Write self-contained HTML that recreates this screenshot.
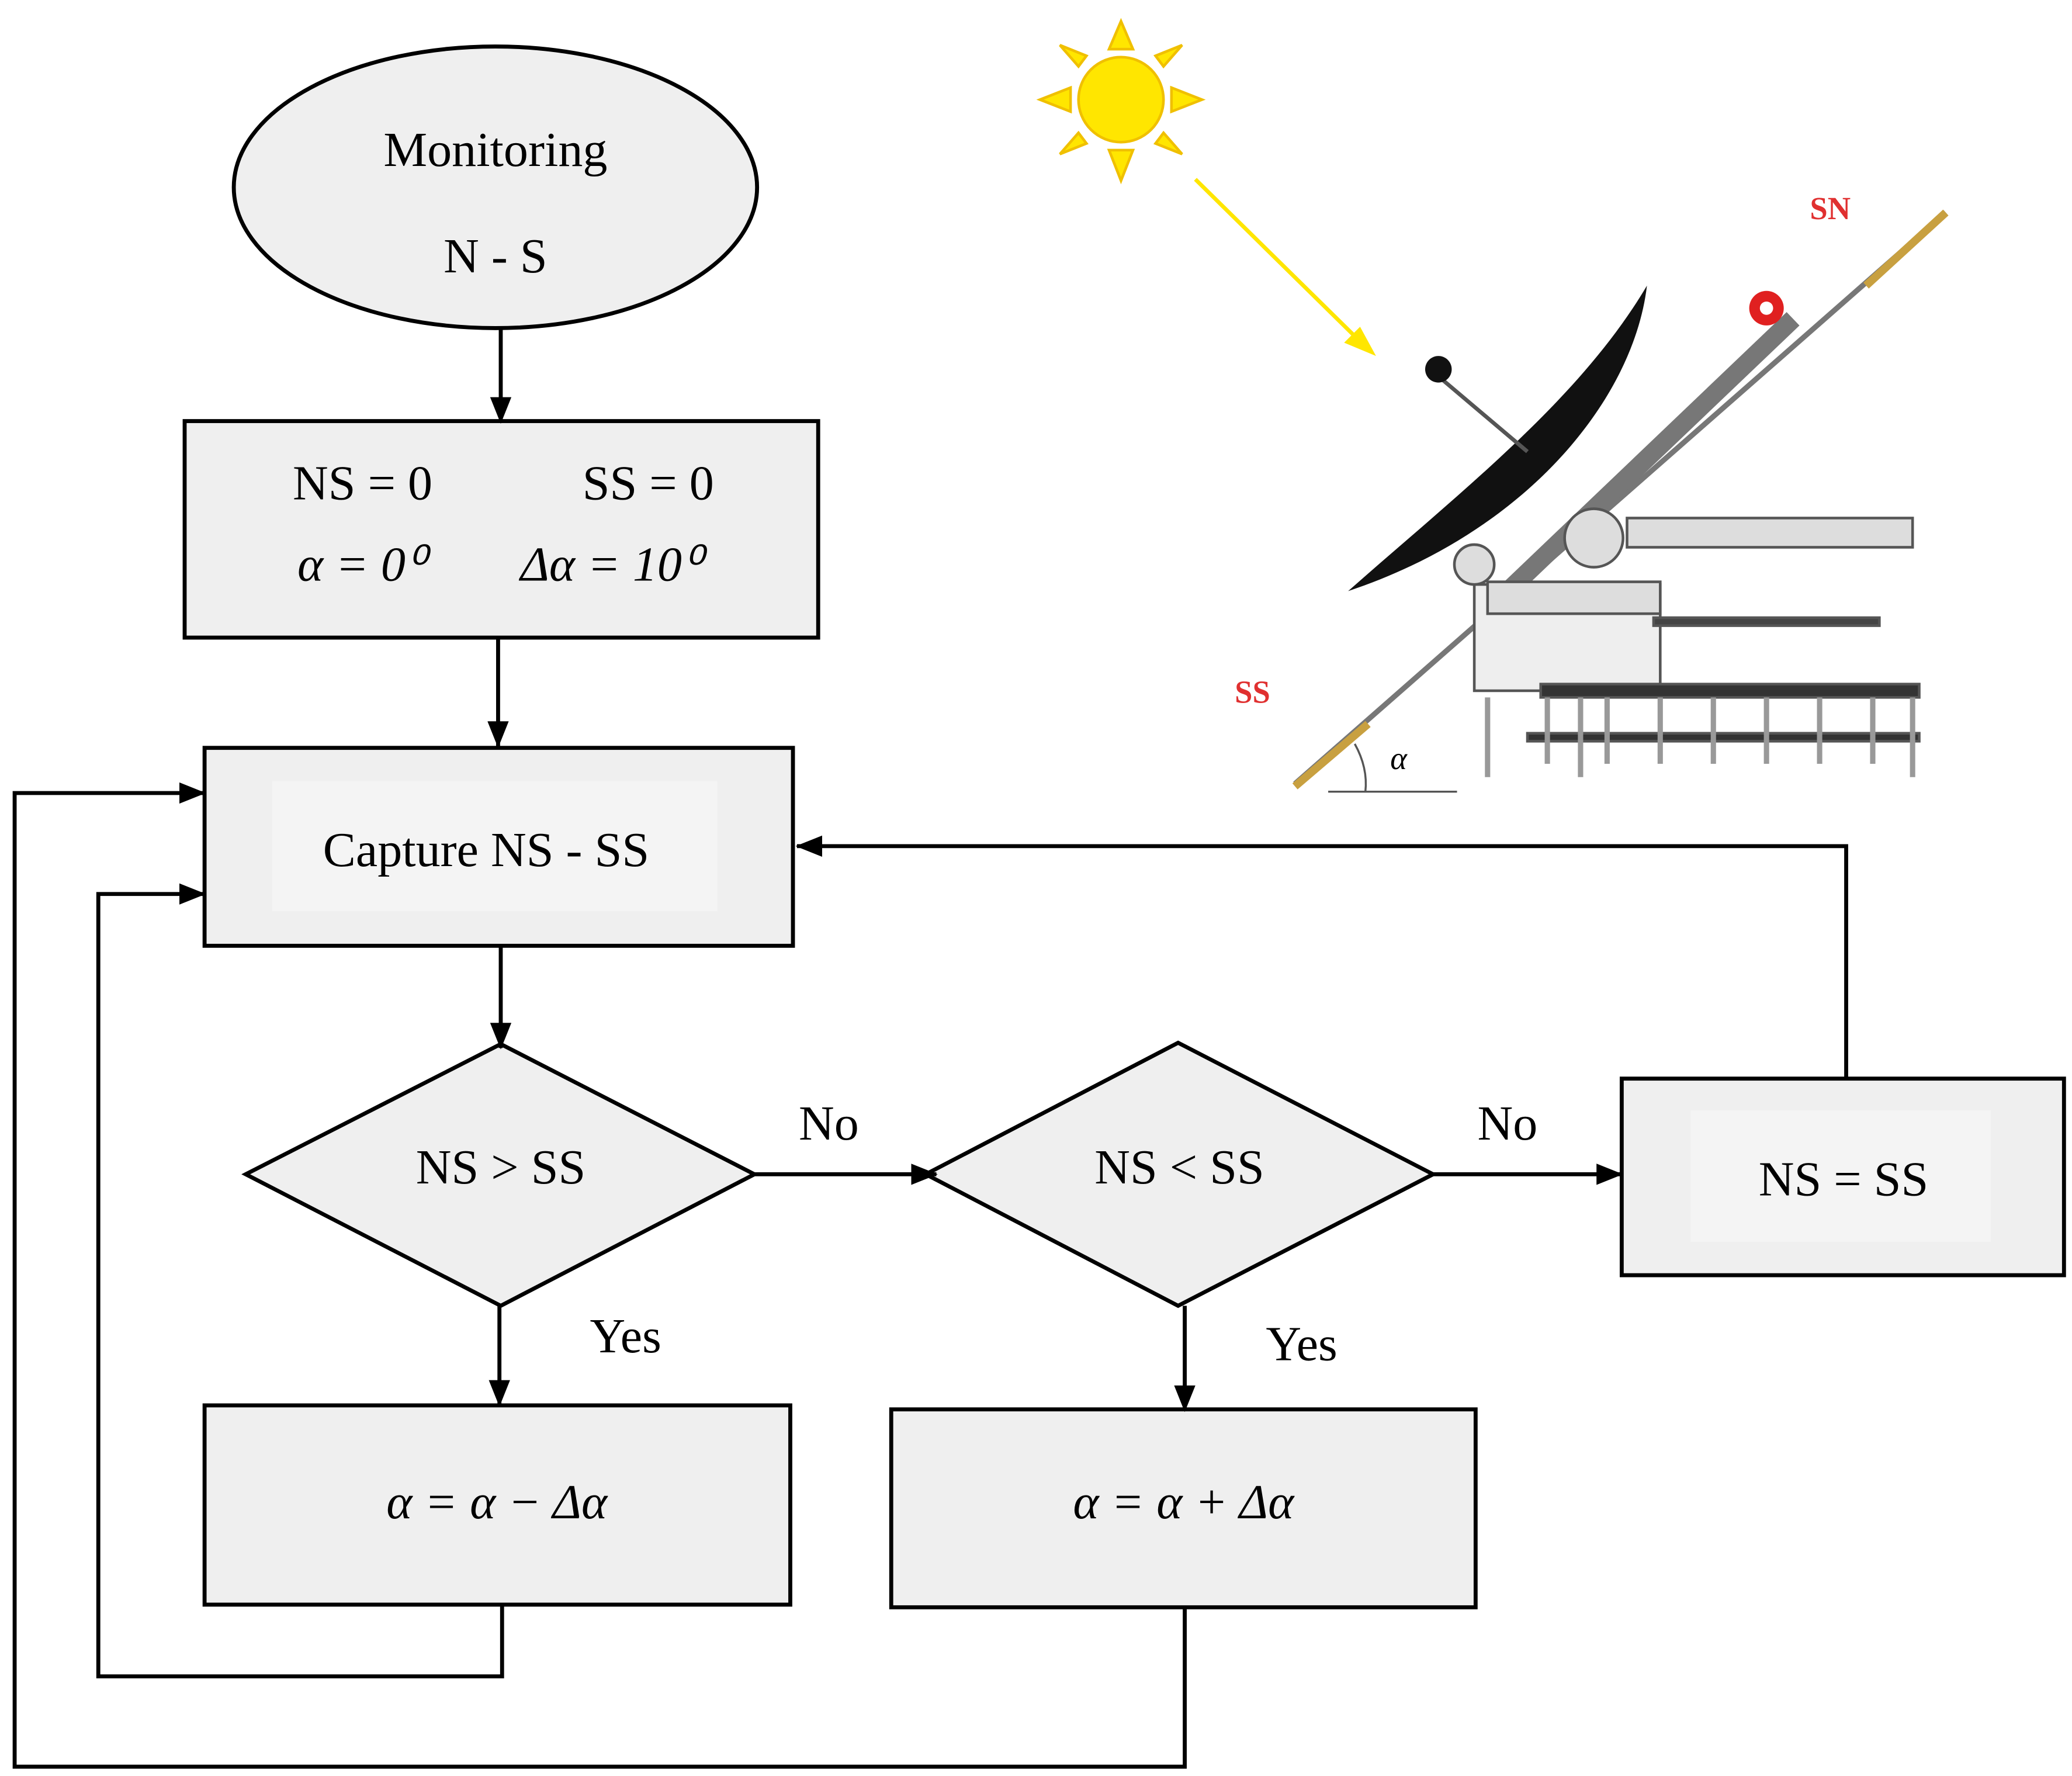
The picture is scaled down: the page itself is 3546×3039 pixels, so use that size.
<!DOCTYPE html>
<html><head><meta charset="utf-8"><style>html,body{margin:0;padding:0;background:#fff}svg{display:block}</style></head>
<body>
<svg width="3546" height="3039" viewBox="0 0 1560 1337" xmlns="http://www.w3.org/2000/svg" font-family="'Liberation Serif',serif">
<defs>
<marker id="b" markerWidth="20" markerHeight="16" refX="19" refY="8" orient="auto" markerUnits="userSpaceOnUse"><path d="M0,0 L20,8 L0,16z" fill="#000"/></marker></defs>
<g stroke="#000" stroke-width="3" fill="#efefef">
<ellipse cx="373" cy="141" rx="197" ry="106"/>
<rect x="139" y="317" width="477" height="163"/>
<rect x="154" y="563" width="443" height="149"/>
<polygon points="185,884 377,786 568,884 377,983"/>
<polygon points="697,884 887,785 1079,884 887,983"/>
<rect x="1221" y="812" width="333" height="148"/>
<rect x="154" y="1058" width="441" height="150"/>
<rect x="671" y="1061" width="440" height="149"/>
</g>
<rect x="205" y="588" width="335" height="98" fill="#f4f4f4"/>
<rect x="1273" y="836" width="226" height="99" fill="#f4f4f4"/>
<g stroke="#000" stroke-width="3" fill="none">
<line x1="377" y1="248" x2="377" y2="318" marker-end="url(#b)"/>
<line x1="375" y1="480" x2="375" y2="562" marker-end="url(#b)"/>
<line x1="377" y1="712" x2="377" y2="789" marker-end="url(#b)"/>
<line x1="568" y1="884" x2="705" y2="884" marker-end="url(#b)"/>
<line x1="1079" y1="884" x2="1221" y2="884" marker-end="url(#b)"/>
<polyline points="1390,812 1390,637 600,637" marker-end="url(#b)"/>
<line x1="376" y1="983" x2="376" y2="1058" marker-end="url(#b)"/>
<line x1="892" y1="983" x2="892" y2="1062" marker-end="url(#b)"/>
<polyline points="378,1208 378,1262 74,1262 74,673 154,673" marker-end="url(#b)"/>
<polyline points="892,1210 892,1330 11,1330 11,597 154,597" marker-end="url(#b)"/>
</g>
<g font-size="37" text-anchor="middle" fill="#000">
<text x="373" y="125">Monitoring</text>
<text x="373" y="205">N - S</text>
<text x="273" y="376">NS = 0</text>
<text x="488" y="376">SS = 0</text>
<text x="272" y="437" font-style="italic">α = 0⁰</text>
<text x="460" y="437" font-style="italic">Δα = 10⁰</text>
<text x="366" y="652">Capture NS - SS</text>
<text x="377" y="891">NS &gt; SS</text>
<text x="888" y="891">NS &lt; SS</text>
<text x="1388" y="900">NS = SS</text>
<text x="624" y="858">No</text>
<text x="1135" y="858">No</text>
<text x="471" y="1018">Yes</text>
<text x="980" y="1024">Yes</text>
<text x="374" y="1143" font-style="italic">α = α − Δα</text>
<text x="891" y="1143" font-style="italic">α = α + Δα</text>
</g>
<g fill="#ffe600" stroke="#f0c000" stroke-width="2">
<circle cx="844" cy="75" r="32"/>
<polygon points="835,37 844,16 853,37"/><polygon points="835,113 844,136 853,113"/>
<polygon points="806,66 783,75 806,84"/><polygon points="882,66 905,75 882,84"/>
<polygon points="812,50 798,34 818,42"/><polygon points="876,50 890,34 870,42"/>
<polygon points="812,100 798,116 818,108"/><polygon points="876,100 890,116 870,108"/>
</g>
<line x1="900" y1="135" x2="1025" y2="258" stroke="#ffe600" stroke-width="3"/>
<polygon points="1036,268 1012,258 1024,246" fill="#ffe600"/>
<g stroke="#555" stroke-width="2" fill="#ddd">
<line x1="975" y1="590" x2="1465" y2="160" stroke="#777" stroke-width="4"/>
<line x1="1130" y1="450" x2="1350" y2="240" stroke="#777" stroke-width="14"/>
<rect x="1225" y="390" width="215" height="22"/>
<rect x="1110" y="440" width="140" height="80" fill="#eee"/>
<rect x="1120" y="438" width="130" height="24"/>
<rect x="1160" y="515" width="285" height="10" fill="#333"/>
<rect x="1150" y="552" width="295" height="6" fill="#333"/>
<rect x="1245" y="465" width="170" height="6" fill="#444"/>
<circle cx="1110" cy="425" r="15"/><circle cx="1200" cy="405" r="22"/>
</g>
<g stroke="#999" stroke-width="4">
<line x1="1120" y1="525" x2="1120" y2="585"/><line x1="1165" y1="525" x2="1165" y2="575"/>
<line x1="1190" y1="525" x2="1190" y2="585"/><line x1="1210" y1="525" x2="1210" y2="575"/>
<line x1="1250" y1="525" x2="1250" y2="575"/><line x1="1290" y1="525" x2="1290" y2="575"/>
<line x1="1330" y1="525" x2="1330" y2="575"/><line x1="1370" y1="525" x2="1370" y2="575"/>
<line x1="1410" y1="525" x2="1410" y2="575"/><line x1="1440" y1="525" x2="1440" y2="585"/>
</g>
<path d="M1240,215 C1230,300 1150,400 1015,445 C1100,370 1190,300 1240,215z" fill="#111"/>
<line x1="1085" y1="285" x2="1150" y2="340" stroke="#555" stroke-width="3"/>
<circle cx="1083" cy="278" r="10" fill="#111"/>
<circle cx="1330" cy="232" r="13" fill="#e02020"/><circle cx="1330" cy="232" r="5" fill="#fff"/>
<line x1="975" y1="592" x2="1030" y2="545" stroke="#c8a040" stroke-width="6"/>
<line x1="1405" y1="215" x2="1465" y2="160" stroke="#c8a040" stroke-width="6"/>
<line x1="1000" y1="596" x2="1097" y2="596" stroke="#555" stroke-width="1.5"/>
<path d="M1020,560 Q1030,578 1028,596" stroke="#555" fill="none" stroke-width="1.5"/>
<text x="1053" y="579" font-size="24" font-style="italic" text-anchor="middle">α</text>
<text x="1378" y="165" font-size="24" fill="#e03030" font-weight="bold" text-anchor="middle">SN</text>
<text x="943" y="529" font-size="24" fill="#e03030" font-weight="bold" text-anchor="middle">SS</text>
</svg>
</body></html>
